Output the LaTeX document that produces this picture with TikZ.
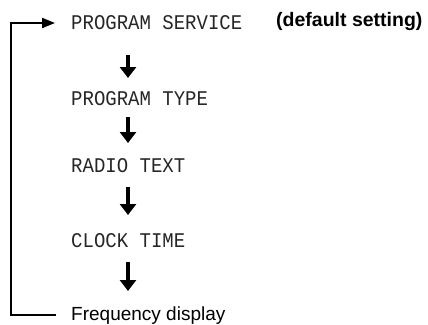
\documentclass[tikz,border=0pt]{standalone}
\usepackage{fontspec}
\setmainfont{Liberation Sans}
\newfontfamily\lcdfont{Liberation Mono}
\usetikzlibrary{arrows.meta}
\tikzset{
  lcd/.style={inner sep=0pt, anchor=base west, yscale=1.1, font=\lcdfont\fontsize{19}{19}\selectfont, text=black!85},
  plain/.style={inner sep=0pt, anchor=base west, font=\fontsize{19}{19}\selectfont},
  bigarrow/.style={line width=4.5pt, -{Triangle[width=16pt,length=11pt]}},
  loopline/.style={line width=2pt},
}
\begin{document}
\begin{tikzpicture}[x=1pt,y=-1pt]
\useasboundingbox (0,0) rectangle (428,324);
\node[lcd] (ps) at (71,29) {PROGRAM SERVICE};
\node[plain, font=\bfseries\fontsize{19.5}{19.5}\selectfont] (def) at (276,27) {(default setting)};
\node[lcd] (pt) at (71,105) {PROGRAM TYPE};
\node[lcd] (rt) at (71,172) {RADIO TEXT};
\node[lcd] (ct) at (71,247) {CLOCK TIME};
\node[plain] (fd) at (71,320) {Frequency display};
\coordinate (a1s) at (128,55); \coordinate (a1e) at (128,78);
\coordinate (a2s) at (128,117); \coordinate (a2e) at (128,143);
\coordinate (a3s) at (128,187); \coordinate (a3e) at (128,215);
\coordinate (a4s) at (128,262); \coordinate (a4e) at (128,291);
\draw[bigarrow] (a1s) -- (a1e);
\draw[bigarrow] (a2s) -- (a2e);
\draw[bigarrow] (a3s) -- (a3e);
\draw[bigarrow] (a4s) -- (a4e);
\coordinate (lb) at (56,315);
\coordinate (lt) at (55,23);
\draw[loopline, -{Triangle[width=10pt,length=13pt]}] (lb) -- (10.5,315) -- (10.5,23) -- (lt);
\end{tikzpicture}
\end{document}
